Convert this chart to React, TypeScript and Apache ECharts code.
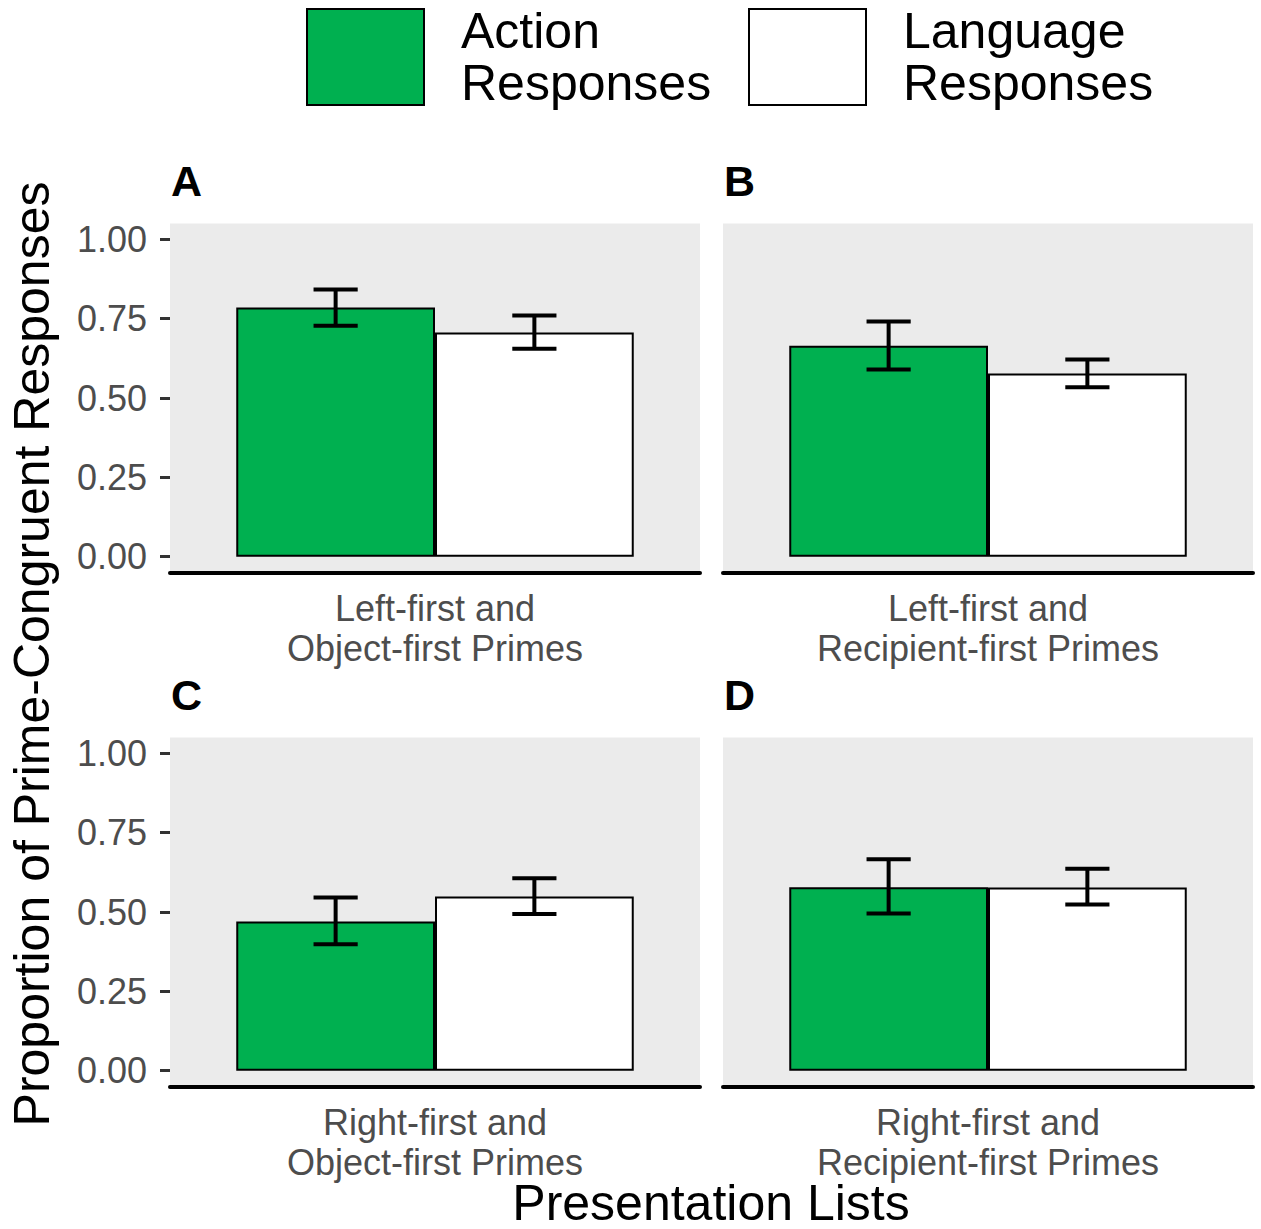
import React, { useEffect, useRef } from "react";
import * as echarts from "echarts";

const panelLetters = ["A", "B", "C", "D"];
const categories = [
  "Left-first and\nObject-first Primes",
  "Left-first and\nRecipient-first Primes",
  "Right-first and\nObject-first Primes",
  "Right-first and\nRecipient-first Primes",
];
const seriesNames = ["Action Responses", "Language Responses"];
const legendLabels = ["Action\nResponses", "Language\nResponses"];
const actionMeans = [0.785, 0.665, 0.47, 0.578];
const actionLower = [0.728, 0.59, 0.398, 0.495];
const actionUpper = [0.842, 0.741, 0.546, 0.666];
const languageMeans = [0.706, 0.577, 0.549, 0.577];
const languageLower = [0.655, 0.534, 0.494, 0.524];
const languageUpper = [0.76, 0.621, 0.606, 0.636];
const yMin = 0;
const yMax = 1;
const yInterval = 0.25;
const yTitle = "Proportion of Prime-Congruent Responses";
const xTitle = "Presentation Lists";

const FONT = "'Liberation Sans', Arial, Helvetica, sans-serif";
const GREEN = "#00B050";
const GREY_BG = "#EBEBEB";

export default function App() {
  const ref = useRef<HTMLDivElement>(null);

  useEffect(() => {
    if (!ref.current) return;
    const chart = echarts.init(ref.current, undefined, { renderer: "svg" });

    const cols = [170, 723];
    const rows = [239.3, 753.3];
    const plotW = 530;
    const plotH = 317.4;
    const expand = 0.05 * plotH;

    const grids: any[] = [];
    const xAxes: any[] = [];
    const yAxes: any[] = [];
    const series: any[] = [];
    const graphics: any[] = [];

    const errRender = (offsetFrac: number) => (params: any, api: any) => {
      const x = api.value(0);
      const lo = api.value(1);
      const hi = api.value(2);
      const pLo = api.coord([x, lo]);
      const pHi = api.coord([x, hi]);
      const band = api.size([1, 0])[0];
      const cx = pLo[0] + offsetFrac * band;
      const hw = (band * 0.1) / 1.2 / 2;
      const style = { stroke: "#000", lineWidth: 4, lineCap: "butt" };
      return {
        type: "group",
        children: [
          { type: "line", shape: { x1: cx, y1: pLo[1], x2: cx, y2: pHi[1] }, style },
          { type: "line", shape: { x1: cx - hw, y1: pHi[1], x2: cx + hw, y2: pHi[1] }, style },
          { type: "line", shape: { x1: cx - hw, y1: pLo[1], x2: cx + hw, y2: pLo[1] }, style },
        ],
      };
    };

    for (let i = 0; i < 4; i++) {
      const left = cols[i % 2];
      const top = rows[Math.floor(i / 2)];
      const isLeft = i % 2 === 0;
      grids.push({ left, top, width: plotW, height: plotH, containLabel: false });
      graphics.push({
        type: "rect",
        z: 0,
        shape: { x: left, y: top - expand, width: plotW, height: plotH + 2 * expand },
        style: { fill: GREY_BG },
        silent: true,
      });
      graphics.push({
        type: "text",
        x: left + 1,
        y: top - 58,
        style: {
          text: panelLetters[i],
          fontSize: 43,
          fontWeight: "bold",
          fontFamily: FONT,
          fill: "#000",
          align: "left",
          verticalAlign: "middle",
        },
      });
      xAxes.push({
        type: "category",
        gridIndex: i,
        data: [categories[i]],
        position: "bottom",
        offset: 16,
        axisLine: { show: true, onZero: false, lineStyle: { color: "#000", width: 4 } },
        axisTick: { show: false },
        splitLine: { show: false },
        axisLabel: {
          interval: 0,
          fontSize: 36,
          lineHeight: 40,
          color: "#4D4D4D",
          fontFamily: FONT,
          margin: 16,
        },
      });
      yAxes.push({
        type: "value",
        gridIndex: i,
        min: yMin,
        max: yMax,
        interval: yInterval,
        splitLine: { show: false },
        axisLine: { show: false },
        axisTick: { show: isLeft, length: 10, lineStyle: { color: "#333333", width: 3 } },
        axisLabel: {
          show: isLeft,
          fontSize: 36,
          color: "#4D4D4D",
          fontFamily: FONT,
          margin: 23,
          formatter: (v: number) => v.toFixed(2),
        },
      });
      series.push({
        type: "bar",
        name: seriesNames[0],
        xAxisIndex: i,
        yAxisIndex: i,
        data: [actionMeans[i]],
        barWidth: "37.5%",
        barGap: "0%",
        z: 2,
        itemStyle: { color: GREEN, borderColor: "#000", borderWidth: 2 },
      });
      series.push({
        type: "bar",
        name: seriesNames[1],
        xAxisIndex: i,
        yAxisIndex: i,
        data: [languageMeans[i]],
        barWidth: "37.5%",
        barGap: "0%",
        z: 2,
        itemStyle: { color: "#FFFFFF", borderColor: "#000", borderWidth: 2 },
      });
      series.push({
        type: "custom",
        xAxisIndex: i,
        yAxisIndex: i,
        z: 5,
        renderItem: errRender(-0.1875),
        encode: { x: 0, y: [1, 2] },
        data: [[0, actionLower[i], actionUpper[i]]],
      });
      series.push({
        type: "custom",
        xAxisIndex: i,
        yAxisIndex: i,
        z: 5,
        renderItem: errRender(0.1875),
        encode: { x: 0, y: [1, 2] },
        data: [[0, languageLower[i], languageUpper[i]]],
      });
    }

    graphics.push({
      type: "text",
      x: 32,
      y: 654,
      rotation: Math.PI / 2,
      style: {
        text: yTitle,
        fontSize: 50,
        fontFamily: FONT,
        fill: "#000",
        align: "center",
        verticalAlign: "middle",
      },
    });
    graphics.push({
      type: "text",
      x: 711,
      y: 1203,
      style: {
        text: xTitle,
        fontSize: 50,
        fontFamily: FONT,
        fill: "#000",
        align: "center",
        verticalAlign: "middle",
      },
    });

    const legendLefts = [306, 748];
    const legends = seriesNames.map((name, k) => ({
      data: [name],
      left: legendLefts[k],
      top: 3,
      orient: "horizontal",
      icon: "rect",
      itemWidth: 117,
      itemHeight: 96,
      selectedMode: false,
      padding: 0,
      formatter: () => legendLabels[k],
      itemStyle: { borderColor: "#000", borderWidth: 2 },
      textStyle: {
        fontSize: 50,
        lineHeight: 52,
        color: "#000",
        fontFamily: FONT,
        padding: [4, 0, 0, 32],
      },
    }));

    chart.setOption({
      animation: false,
      backgroundColor: "#FFFFFF",
      textStyle: { fontFamily: FONT },
      legend: legends,
      grid: grids,
      xAxis: xAxes,
      yAxis: yAxes,
      series,
      graphic: graphics,
    });

    return () => chart.dispose();
  }, []);

  return (
    <div
      ref={ref}
      style={{ position: "fixed", left: 0, top: 0, width: 1261, height: 1229, background: "#fff" }}
    />
  );
}
